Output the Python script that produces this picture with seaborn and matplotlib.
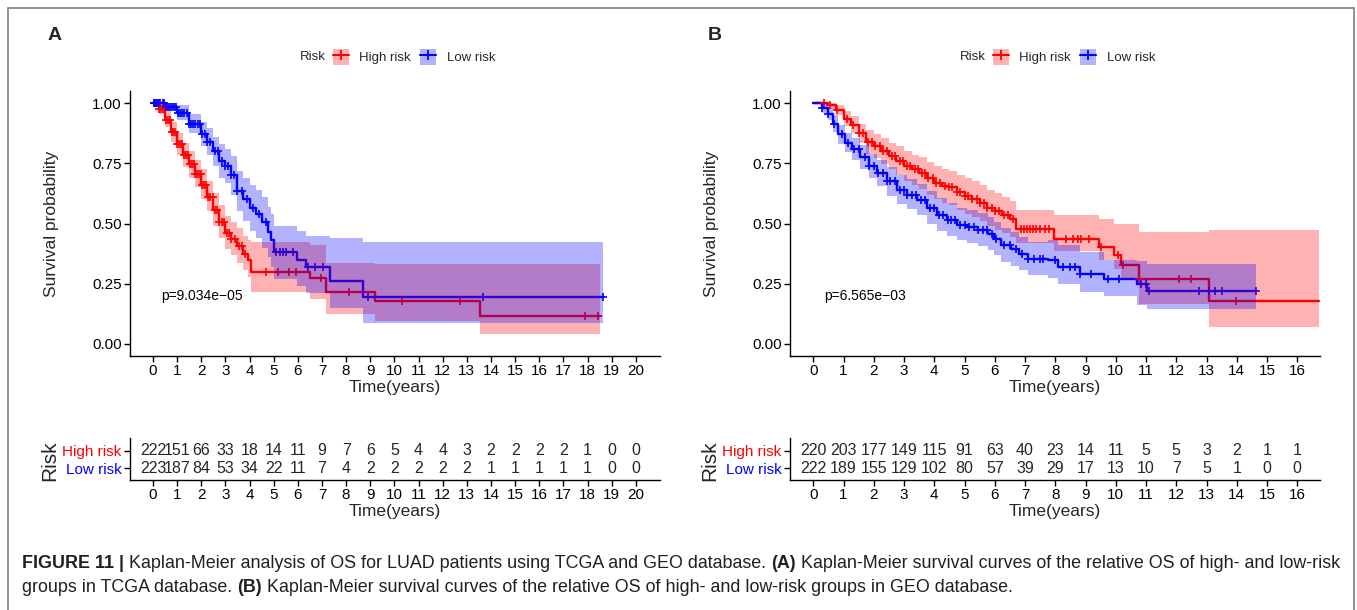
import numpy as np
import seaborn as sns
import matplotlib
matplotlib.use("Agg")
import matplotlib.pyplot as plt
from matplotlib.patches import Patch
from matplotlib.lines import Line2D

# ---------------- data ----------------
# Panel A (TCGA) - Kaplan-Meier step knots, survival, 95% CI
tcga_high_t = [0, 0.25, 0.5, 0.75, 1.0, 1.25, 1.5, 1.75, 2.0, 2.25, 2.5, 2.75, 3.0, 3.25, 3.5, 3.75,
               3.95, 4.05, 6.5, 7.15, 9.2, 13.55, 18.5]
tcga_high_s = [1.0, 0.975, 0.93, 0.88, 0.83, 0.785, 0.745, 0.705, 0.66, 0.61, 0.555, 0.505, 0.46, 0.435,
               0.405, 0.375, 0.35, 0.30, 0.272, 0.214, 0.179, 0.115, 0.115]
tcga_high_lo = [1.0, 0.955, 0.90, 0.84, 0.785, 0.735, 0.69, 0.65, 0.60, 0.55, 0.49, 0.44, 0.395, 0.37,
                0.335, 0.305, 0.28, 0.214, 0.186, 0.126, 0.096, 0.04, 0.04]
tcga_high_up = [1.0, 0.995, 0.965, 0.92, 0.875, 0.835, 0.80, 0.765, 0.725, 0.675, 0.625, 0.575, 0.53, 0.505,
                0.48, 0.45, 0.43, 0.425, 0.41, 0.335, 0.33, 0.33, 0.33]
tcga_high_cens = [0.05, 0.12, 0.2, 0.27, 0.33, 0.41, 0.48, 0.55, 0.62, 0.7, 0.78, 0.85, 0.92, 1.0, 1.07,
                  1.15, 1.22, 1.3, 1.38, 1.45, 1.52, 1.6, 1.68, 1.75, 1.83, 1.9, 1.98, 2.05, 2.13, 2.2,
                  2.3, 2.38, 2.47, 2.55, 2.65, 2.75, 2.85, 2.95, 3.05, 3.15, 3.25, 3.4, 3.55, 3.7, 3.82,
                  4.68, 5.16, 5.63, 5.91, 6.98, 8.13, 10.3, 12.71, 17.89, 18.44]

tcga_low_t = [0, 0.5, 1.0, 1.5, 2.0, 2.25, 2.5, 2.75, 3.0, 3.25, 3.5, 3.75, 4.0, 4.25, 4.5, 4.75, 4.9,
              5.0, 5.95, 6.35, 7.33, 8.68, 18.65]
tcga_low_s = [1.0, 0.985, 0.96, 0.915, 0.87, 0.84, 0.80, 0.76, 0.74, 0.70, 0.635, 0.60, 0.565, 0.54,
              0.505, 0.465, 0.43, 0.38, 0.35, 0.318, 0.2625, 0.193, 0.193]
tcga_low_up = [1.0, 1.0, 0.99, 0.955, 0.92, 0.895, 0.86, 0.83, 0.81, 0.78, 0.72, 0.69, 0.66, 0.64, 0.61,
               0.57, 0.54, 0.49, 0.47, 0.45, 0.44, 0.425, 0.425]
tcga_low_lo = [1.0, 0.97, 0.93, 0.875, 0.82, 0.785, 0.74, 0.69, 0.67, 0.62, 0.55, 0.51, 0.47, 0.44, 0.40,
               0.36, 0.32, 0.27, 0.24, 0.21, 0.15, 0.086, 0.086]
tcga_low_cens = [0.04, 0.1, 0.17, 0.25, 0.31, 0.4, 0.47, 0.55, 0.63, 0.7, 0.8, 0.88, 0.97, 1.05, 1.14,
                 1.22, 1.3, 1.4, 1.5, 1.58, 1.67, 1.75, 1.85, 1.95, 2.05, 2.15, 2.25, 2.35, 2.55, 2.7,
                 2.85, 3.0, 3.1, 3.25, 3.35, 3.5, 3.7, 3.9, 4.15, 4.4, 4.7, 5.1, 5.26, 5.4, 5.53, 5.81,
                 6.43, 6.71, 7.05, 8.92, 13.65, 18.65]

# Panel B (GEO)
geo_high_t = [0, 0.5, 0.75, 1.0, 1.25, 1.5, 1.75, 2.0, 2.25, 2.5, 2.75, 3.0, 3.25, 3.5, 3.75, 4.0, 4.25,
              4.5, 4.75, 5.0, 5.25, 5.5, 5.75, 6.0, 6.25, 6.5, 6.7, 7.97, 9.46, 9.95, 10.17, 10.78,
              13.09, 16.72]
geo_high_s = [1.0, 0.99, 0.97, 0.935, 0.91, 0.875, 0.84, 0.82, 0.80, 0.78, 0.76, 0.74, 0.725, 0.71, 0.69,
              0.67, 0.655, 0.65, 0.63, 0.615, 0.60, 0.585, 0.565, 0.55, 0.535, 0.52, 0.479, 0.4375,
              0.403, 0.368, 0.326, 0.271, 0.18, 0.18]
geo_high_up = [1.0, 1.0, 0.99, 0.965, 0.945, 0.915, 0.89, 0.87, 0.855, 0.835, 0.82, 0.8, 0.785, 0.775,
               0.755, 0.74, 0.725, 0.72, 0.7, 0.69, 0.675, 0.66, 0.64, 0.625, 0.61, 0.595, 0.555, 0.535,
               0.52, 0.5, 0.5, 0.465, 0.472, 0.472]
geo_high_lo = [1.0, 0.975, 0.95, 0.905, 0.875, 0.835, 0.79, 0.77, 0.745, 0.725, 0.7, 0.675, 0.66, 0.645,
               0.62, 0.6, 0.585, 0.575, 0.555, 0.54, 0.525, 0.51, 0.49, 0.475, 0.46, 0.445, 0.42, 0.385,
               0.35, 0.31, 0.27, 0.165, 0.069, 0.069]
geo_high_cens = [0.35, 0.55, 0.8, 1.1, 1.3, 1.5, 1.65, 1.8, 1.95, 2.05, 2.2, 2.3, 2.45, 2.6, 2.7, 2.85,
                 2.95, 3.1, 3.2, 3.35, 3.45, 3.6, 3.7, 3.8, 3.95, 4.05, 4.2, 4.35, 4.5, 4.6, 4.75, 4.85,
                 5.0, 5.1, 5.25, 5.4, 5.5, 5.65, 5.75, 5.9, 6.0, 6.15, 6.3, 6.45, 6.6, 6.85, 6.95, 7.05,
                 7.15, 7.25, 7.35, 7.5, 7.65, 7.8, 8.36, 8.58, 8.74, 8.85, 9.13, 9.52, 10.07, 10.24,
                 10.78, 12.1, 12.49, 13.97]

geo_low_t = [0, 0.3, 0.5, 0.65, 0.83, 1.05, 1.27, 1.55, 1.83, 2.1, 2.44, 2.77, 3.1, 3.43, 3.77, 4.1,
             4.43, 4.76, 5.09, 5.43, 5.76, 5.98, 6.2, 6.53, 6.81, 7.09, 7.75, 8.08, 8.8, 9.6, 10.7,
             11.02, 14.63]
geo_low_s = [1.0, 0.98, 0.955, 0.915, 0.87, 0.835, 0.81, 0.775, 0.74, 0.71, 0.675, 0.64, 0.62, 0.597,
             0.565, 0.535, 0.515, 0.495, 0.486, 0.472, 0.458, 0.4375, 0.41, 0.396, 0.375, 0.354, 0.347,
             0.319, 0.289, 0.271, 0.247, 0.218, 0.218]
geo_low_up = [1.0, 1.0, 0.98, 0.95, 0.91, 0.875, 0.855, 0.825, 0.79, 0.765, 0.735, 0.70, 0.685, 0.665,
              0.635, 0.605, 0.585, 0.565, 0.555, 0.542, 0.528, 0.507, 0.48, 0.466, 0.445, 0.424, 0.43,
              0.41, 0.38, 0.35, 0.345, 0.333, 0.333]
geo_low_lo = [1.0, 0.96, 0.93, 0.88, 0.83, 0.795, 0.765, 0.725, 0.69, 0.655, 0.615, 0.58, 0.56, 0.535,
              0.5, 0.47, 0.45, 0.43, 0.42, 0.405, 0.39, 0.37, 0.34, 0.325, 0.305, 0.285, 0.275, 0.25,
              0.215, 0.2, 0.16, 0.146, 0.146]
geo_low_cens = [0.3, 0.5, 0.7, 0.95, 1.15, 1.35, 1.5, 1.7, 1.85, 2.0, 2.15, 2.3, 2.45, 2.55, 2.7, 2.85,
                3.0, 3.1, 3.25, 3.4, 3.55, 3.7, 3.85, 4.0, 4.15, 4.3, 4.45, 4.55, 4.7, 4.85, 5.0, 5.15,
                5.3, 5.45, 5.6, 5.75, 5.9, 6.05, 6.3, 6.5, 6.7, 6.9, 7.1, 7.3, 7.5, 7.6, 8.0, 8.25,
                8.47, 8.64, 8.8, 9.19, 9.73, 10.12, 10.84, 11.0, 11.11, 12.76, 13.09, 13.29, 13.51,
                14.63]

# Numbers at risk
tcga_times = list(range(0, 21))
tcga_risk_high = [222, 151, 66, 33, 18, 14, 11, 9, 7, 6, 5, 4, 4, 3, 2, 2, 2, 2, 1, 0, 0]
tcga_risk_low = [223, 187, 84, 53, 34, 22, 11, 7, 4, 2, 2, 2, 2, 2, 1, 1, 1, 1, 1, 0, 0]
geo_times = list(range(0, 17))
geo_risk_high = [220, 203, 177, 149, 115, 91, 63, 40, 23, 14, 11, 5, 5, 3, 2, 1, 1]
geo_risk_low = [222, 189, 155, 129, 102, 80, 57, 39, 29, 17, 13, 10, 7, 5, 1, 0, 0]

tcga_pval = "p=9.034e\u221205"
geo_pval = "p=6.565e\u221203"

# ---------------- style ----------------
sns.set_theme(style="ticks")
plt.rcParams["font.family"] = ["Liberation Sans", "DejaVu Sans"]
plt.rcParams["axes.linewidth"] = 1.0
plt.rcParams["xtick.major.width"] = 1.0
plt.rcParams["ytick.major.width"] = 1.0
plt.rcParams["xtick.major.size"] = 4
plt.rcParams["ytick.major.size"] = 4
plt.rcParams["xtick.color"] = "black"
plt.rcParams["ytick.color"] = "black"
plt.rcParams["axes.edgecolor"] = "black"

W, H = 1357, 610
fig = plt.figure(figsize=(W / 100, H / 100), dpi=100)
fig.patch.set_facecolor("white")

RED = "#FF0000"
BLUE = "#0000FF"


def fx(px):
    return px / W


def fy(px):
    return 1 - px / H


def step_value(tk, sk, times):
    tk = np.asarray(tk)
    sk = np.asarray(sk)
    idx = np.searchsorted(tk, times, side="right") - 1
    return sk[np.clip(idx, 0, len(sk) - 1)]


def draw_panel(left_px, xlim, xticks, curves, pval, times, risk_high, risk_low, letter, leg_x):
    # main survival axes
    ax = fig.add_axes([fx(left_px), fy(356), 530 / W, 265 / H])
    for c in curves:
        sns.lineplot(x=c["t"], y=c["s"], ax=ax, color=c["color"], lw=1.7,
                     drawstyle="steps-post", estimator=None, sort=False, zorder=2)
        cy = step_value(c["t"], c["s"], c["cens"])
        sns.scatterplot(x=c["cens"], y=cy, ax=ax, marker="+", s=32, color=c["color"],
                        linewidth=1.2, zorder=2.5, legend=False)
    for c in curves:
        ax.fill_between(c["t"], c["lo"], c["up"], step="post", color=c["color"],
                        alpha=0.3, lw=0, zorder=3)
    ax.set_xlim(*xlim)
    ax.set_ylim(-0.05, 1.05)
    ax.set_xticks(xticks)
    ax.set_xticklabels([str(v) for v in xticks], fontsize=11)
    ax.set_yticks([0, 0.25, 0.5, 0.75, 1.0])
    ax.set_yticklabels(["0.00", "0.25", "0.50", "0.75", "1.00"], fontsize=11)
    ax.tick_params(pad=2)
    ax.set_xlabel("Time(years)", fontsize=12.5, labelpad=1)
    ax.set_ylabel("Survival probability", fontsize=12.5)
    ax.yaxis.set_label_coords(-0.134, 0.5)
    ax.text(0.35, 0.2, pval, fontsize=10, ha="left", va="center", color="black")
    sns.despine(ax=ax)

    # risk table axes
    tab = fig.add_axes([fx(left_px), fy(480), 530 / W, 42 / H])
    for t, n in zip(times, risk_high):
        tab.text(t, 1, str(n), ha="center", va="center", fontsize=11.5)
    for t, n in zip(times, risk_low):
        tab.text(t, 0, str(n), ha="center", va="center", fontsize=11.5)
    tab.set_xlim(*xlim)
    tab.set_ylim(-0.7, 1.76)
    tab.set_xticks(xticks)
    tab.set_xticklabels([str(v) for v in xticks], fontsize=11)
    tab.set_yticks([0, 1])
    tab.set_yticklabels(["Low risk", "High risk"], fontsize=11)
    tab.get_yticklabels()[0].set_color(BLUE)
    tab.get_yticklabels()[1].set_color(RED)
    tab.tick_params(pad=2)
    tab.set_xlabel("Time(years)", fontsize=12.5, labelpad=1)
    tab.set_ylabel("Risk", fontsize=15)
    tab.yaxis.set_label_coords(-0.134, 0.45)
    sns.despine(ax=tab)

    # panel letter
    fig.text(fx(left_px - 82), fy(36), letter, fontsize=14, fontweight="bold",
             ha="left", va="center")

    # legend
    handles = [
        (Patch(facecolor=RED, alpha=0.3, edgecolor="none"),
         Line2D([], [], color=RED, lw=1.5, marker="+", markersize=7, mew=1.3)),
        (Patch(facecolor=BLUE, alpha=0.3, edgecolor="none"),
         Line2D([], [], color=BLUE, lw=1.5, marker="+", markersize=7, mew=1.3)),
    ]
    fig.text(fx(leg_x - 33), fy(57), "Risk", fontsize=9.5, ha="left", va="center")
    fig.legend(handles, ["High risk", "Low risk"], ncol=2, loc="center left",
               bbox_to_anchor=(fx(leg_x), fy(57)), frameon=False, fontsize=9.5,
               handlelength=1.2, handleheight=1.4, handletextpad=0.8,
               columnspacing=0.7, borderpad=0, borderaxespad=0)


tcga_curves = [
    dict(t=tcga_high_t, s=tcga_high_s, lo=tcga_high_lo, up=tcga_high_up, cens=tcga_high_cens, color=RED),
    dict(t=tcga_low_t, s=tcga_low_s, lo=tcga_low_lo, up=tcga_low_up, cens=tcga_low_cens, color=BLUE),
]
geo_curves = [
    dict(t=geo_high_t, s=geo_high_s, lo=geo_high_lo, up=geo_high_up, cens=geo_high_cens, color=RED),
    dict(t=geo_low_t, s=geo_low_s, lo=geo_low_lo, up=geo_low_up, cens=geo_low_cens, color=BLUE),
]

draw_panel(130, (-0.95, 21.0), tcga_times, tcga_curves, tcga_pval,
           tcga_times, tcga_risk_high, tcga_risk_low, "A", 333)
draw_panel(790, (-0.77, 16.75), geo_times, geo_curves, geo_pval,
           geo_times, geo_risk_high, geo_risk_low, "B", 993)

# outer frame (left, top, right)
frame_kw = dict(color="#8a8a8a", lw=1.3, transform=fig.transFigure)
fig.add_artist(Line2D([fx(8), fx(8)], [0, fy(8)], **frame_kw))
fig.add_artist(Line2D([fx(8), fx(1354)], [fy(8), fy(8)], **frame_kw))
fig.add_artist(Line2D([fx(1354), fx(1354)], [fy(8), 0], **frame_kw))

# caption with bold runs
renderer = fig.canvas.get_renderer()
cap_fs = 12.9
cap_color = "#231f20"
probe1 = fig.text(0, 0, "a a", fontsize=cap_fs)
probe2 = fig.text(0, 0, "aa", fontsize=cap_fs)
space_w = probe1.get_window_extent(renderer).width - probe2.get_window_extent(renderer).width
probe1.remove()
probe2.remove()


def caption_line(y_px, parts, x_px=22):
    x = x_px
    for txt, bold in parts:
        t = fig.text(fx(x), fy(y_px), txt, fontsize=cap_fs, color=cap_color,
                     fontweight="bold" if bold else "normal", ha="left", va="center")
        x += t.get_window_extent(renderer).width + space_w


caption_line(563, [("FIGURE 11 |", True),
                   ("Kaplan-Meier analysis of OS for LUAD patients using TCGA and GEO database.", False),
                   ("(A)", True),
                   ("Kaplan-Meier survival curves of the relative OS of high- and low-risk", False)])
caption_line(587, [("groups in TCGA database.", False),
                   ("(B)", True),
                   ("Kaplan-Meier survival curves of the relative OS of high- and low-risk groups in GEO database.", False)])

fig.savefig("out.png", dpi=100)
